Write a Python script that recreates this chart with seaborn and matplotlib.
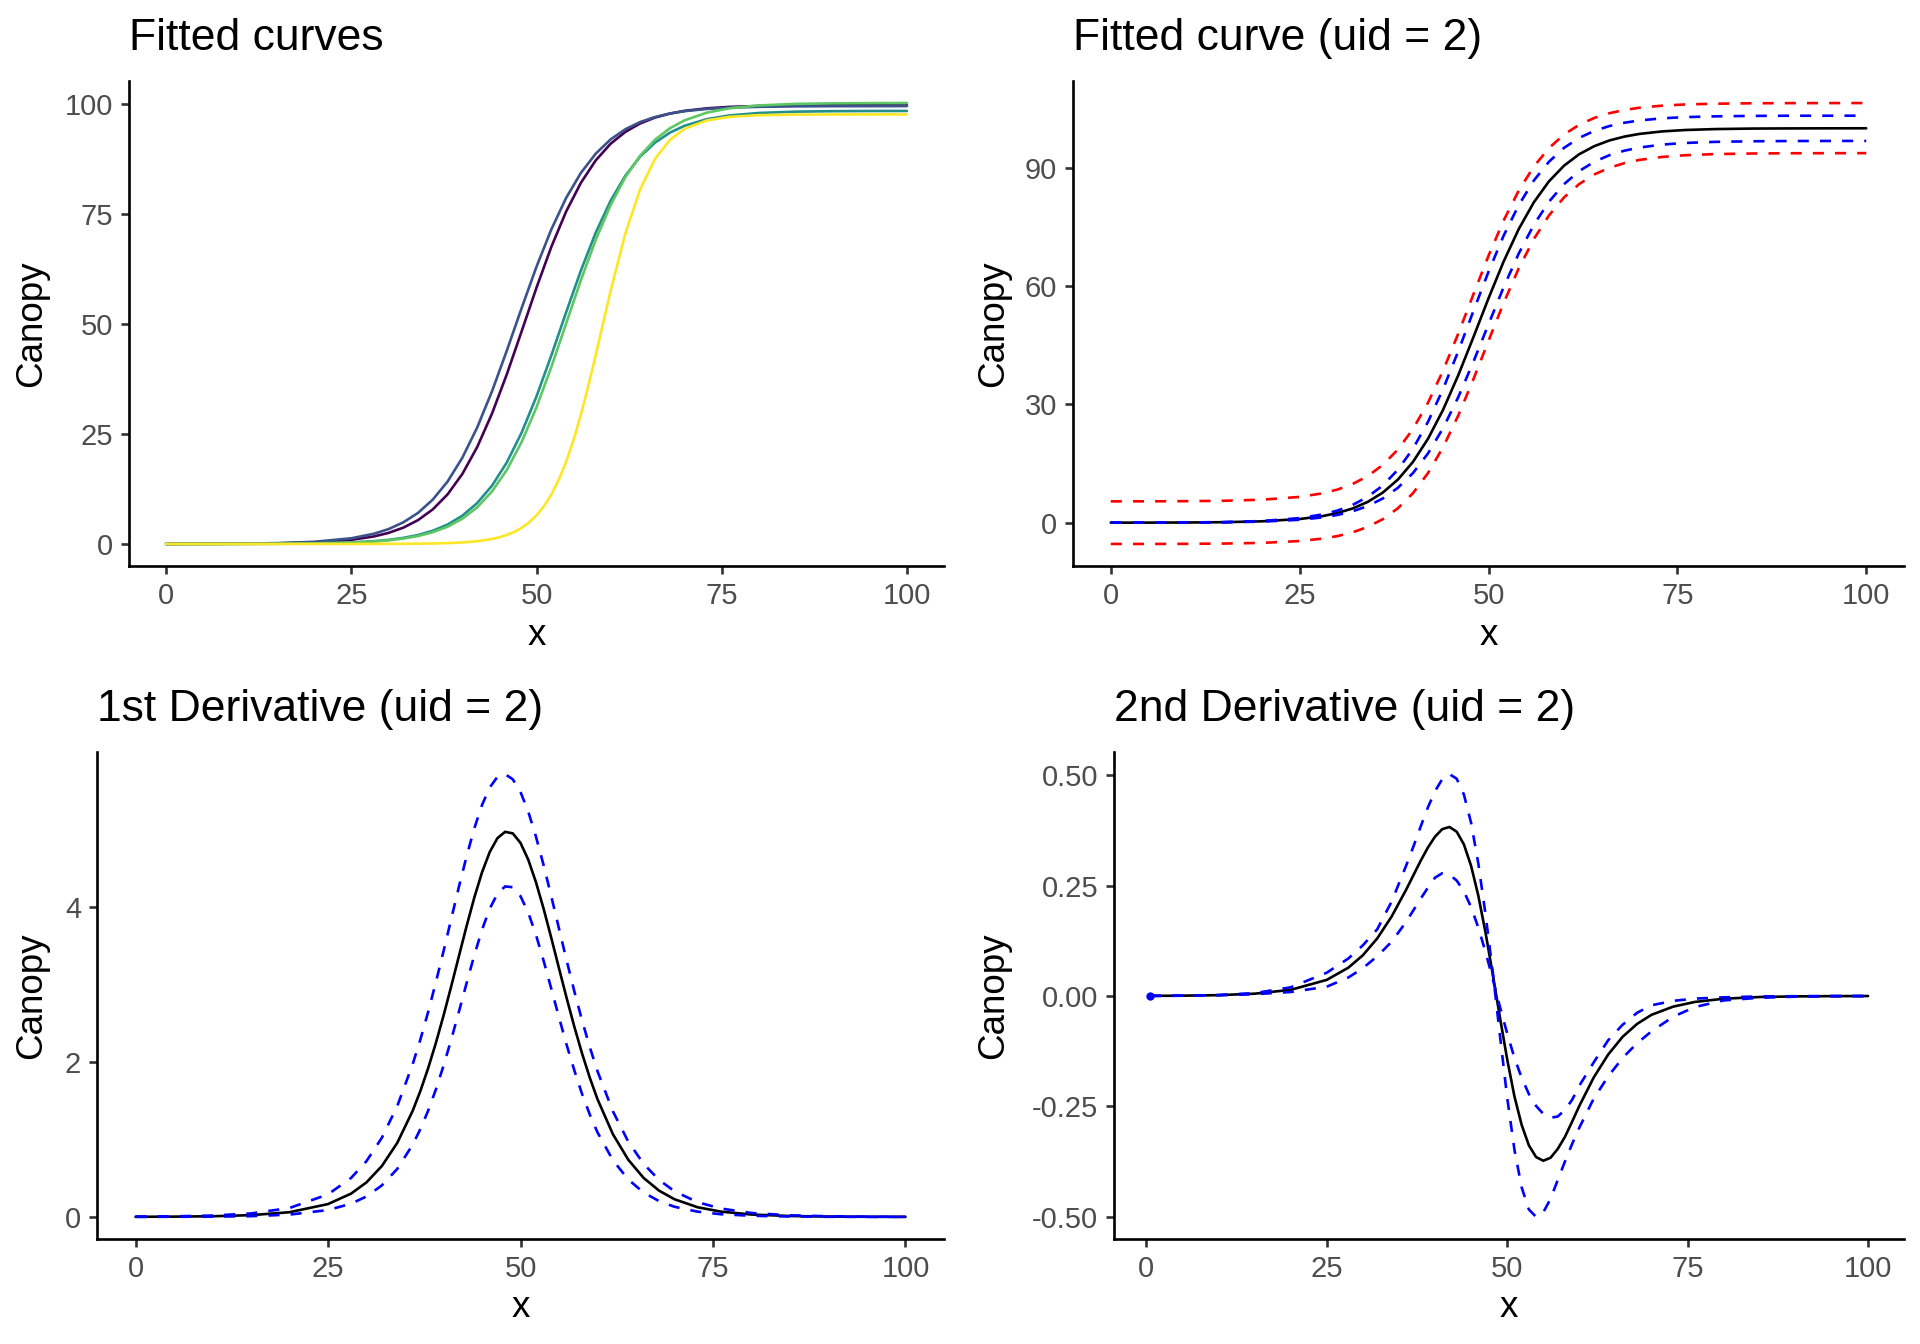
import matplotlib
matplotlib.use("Agg")
import matplotlib.pyplot as plt
import matplotlib.ticker as mticker
import matplotlib.transforms as mtrans
import seaborn as sns

sns.set_style("ticks")
plt.rcParams['font.family'] = ['Liberation Sans', 'DejaVu Sans']
plt.rcParams['axes.unicode_minus'] = False

# x grid for the two top panels
x = [0, 5, 10, 15, 20, 25, 28, 30, 32, 34, 36, 38, 40, 42, 44, 46, 48, 50, 52,
     54, 56, 58, 60, 62, 64, 66, 68, 70, 73, 76, 80, 85, 90, 95, 100]
# finer grid for the steep curves
x_d = [0, 5, 10, 15, 20, 25, 28, 30, 32, 34, 36, 37, 38, 39, 40, 41, 42, 43, 44, 45, 46, 47, 48,
       49, 50, 51, 52, 53, 54, 55, 56, 57, 58, 59, 60, 62, 64, 66, 68, 70, 73, 76, 80, 85, 90, 95, 100]
x_d2 = [0.5] + x_d[1:]

# --- fitted curves, one per uid
uid1 = [0.0, 0.02, 0.05, 0.13, 0.35, 0.94, 1.69, 2.50, 3.69, 5.41, 7.86, 11.28, 15.95, 22.06, 29.68,
        38.62, 48.40, 58.30, 67.57, 75.62, 82.17, 87.26, 91.03, 93.74, 95.66, 96.99, 97.89, 98.52,
        99.09, 99.41, 99.62, 99.73, 99.78, 99.79, 99.80]
uid2 = [0.01, 0.03, 0.07, 0.19, 0.49, 1.29, 2.30, 3.36, 4.89, 7.05, 10.08, 14.20, 19.64, 26.51, 34.75,
        44.00, 53.68, 63.07, 71.54, 78.71, 84.42, 88.79, 92.02, 94.34, 95.98, 97.11, 97.91, 98.45,
        98.95, 99.24, 99.43, 99.54, 99.58, 99.59, 99.60]
uid3 = [0.00, 0.01, 0.02, 0.05, 0.13, 0.34, 0.62, 0.92, 1.37, 2.03, 3.00, 4.41, 6.44, 9.31, 13.27,
        18.56, 25.35, 33.56, 42.88, 52.69, 62.23, 70.83, 78.06, 83.79, 88.13, 91.30, 93.55, 95.13,
        96.62, 97.46, 98.03, 98.33, 98.44, 98.48, 98.49]
uid4 = [0.00, 0.01, 0.02, 0.04, 0.11, 0.30, 0.55, 0.82, 1.22, 1.80, 2.67, 3.93, 5.75, 8.34, 11.96,
        16.85, 23.22, 31.09, 40.25, 50.15, 60.05, 69.21, 77.08, 83.45, 88.34, 91.96, 94.55, 96.37,
        98.11, 99.08, 99.75, 100.10, 100.22, 100.27, 100.29]
# uid 5 is read on the finer grid (x_d)
uid5 = [0.00, 0.00, 0.00, 0.00, 0.00, 0.00, 0.01, 0.02, 0.03, 0.06,
        0.10, 0.14, 0.19, 0.26, 0.35, 0.47, 0.63, 0.85, 1.14, 1.53, 2.06, 2.75, 3.68,
        4.90, 6.51, 8.58, 11.24, 14.59, 18.71, 23.67, 29.46, 35.97, 43.02, 50.31, 57.55,
        70.65, 80.74, 87.60, 91.89, 94.43, 96.34, 97.14, 97.53, 97.66, 97.69, 97.70, 97.70]
uid_colors = ['#440154', '#3B528B', '#21908C', '#5DC863', '#FDE725']

# --- uid 2 fit with confidence (blue) and prediction (red) bands
fit = [0.01, 0.02, 0.05, 0.13, 0.35, 0.93, 1.66, 2.45, 3.60, 5.26, 7.62, 10.92, 15.41, 21.30, 28.68,
       37.40, 47.03, 56.88, 66.21, 74.44, 81.23, 86.54, 90.52, 93.42, 95.47, 96.91, 97.90, 98.58,
       99.21, 99.56, 99.80, 99.93, 99.97, 99.99, 100.00]
ci_up = [0.01, 0.02, 0.06, 0.16, 0.43, 1.16, 2.09, 3.07, 4.49, 6.54, 9.43, 13.42, 18.75, 25.60, 33.95,
         43.49, 53.64, 63.63, 72.76, 80.52, 86.75, 91.52, 95.04, 97.57, 99.34, 100.57, 101.41, 101.99,
         102.53, 102.83, 103.03, 103.14, 103.18, 103.19, 103.20]
ci_lo = [0.01, 0.01, 0.04, 0.10, 0.27, 0.74, 1.33, 1.96, 2.88, 4.22, 6.13, 8.84, 12.58, 17.59, 24.02,
         31.84, 40.79, 50.31, 59.69, 68.24, 75.52, 81.37, 85.84, 89.14, 91.51, 93.18, 94.33, 95.12,
         95.87, 96.28, 96.56, 96.71, 96.77, 96.79, 96.80]
pi_up = [5.41, 5.42, 5.46, 5.56, 5.83, 6.54, 7.44, 8.40, 9.80, 11.80, 14.63, 18.53, 23.75, 30.46, 38.62,
         47.96, 57.89, 67.68, 76.61, 84.20, 90.30, 94.97, 98.41, 100.89, 102.62, 103.82, 104.65, 105.22,
         105.74, 106.04, 106.23, 106.34, 106.38, 106.39, 106.40]
pi_lo = [-5.39, -5.39, -5.36, -5.29, -5.12, -4.65, -4.04, -3.40, -2.45, -1.08, 0.88, 3.65, 7.48, 12.61,
         19.19, 27.19, 36.36, 46.10, 55.70, 64.47, 71.92, 77.90, 82.48, 85.86, 88.29, 89.99, 91.17,
         91.99, 92.74, 93.17, 93.46, 93.61, 93.67, 93.69, 93.70]

# --- 1st derivative
d1 = [0.001, 0.003, 0.008, 0.022, 0.060, 0.165, 0.300, 0.445, 0.656, 0.955,
      1.368, 1.624, 1.915, 2.239, 2.594, 2.972, 3.362, 3.750, 4.117, 4.442, 4.704, 4.883, 4.965,
      4.945, 4.822, 4.608, 4.318, 3.974, 3.596, 3.205, 2.819, 2.449, 2.105, 1.794, 1.517,
      1.066, 0.736, 0.501, 0.338, 0.227, 0.124, 0.068, 0.030, 0.011, 0.004, 0.001, 0.000]
d1_up = [0.003, 0.007, 0.017, 0.044, 0.114, 0.290, 0.502, 0.719, 1.021, 1.430,
         1.969, 2.288, 2.640, 3.022, 3.424, 3.840, 4.255, 4.650, 5.009, 5.310, 5.536, 5.673, 5.709,
         5.642, 5.479, 5.228, 4.906, 4.536, 4.132, 3.716, 3.303, 2.905, 2.531, 2.188, 1.878,
         1.361, 0.969, 0.682, 0.476, 0.330, 0.189, 0.108, 0.050, 0.020, 0.008, 0.003, 0.001]
d1_lo = [0.000, 0.001, 0.003, 0.009, 0.029, 0.088, 0.170, 0.263, 0.406, 0.619,
         0.931, 1.133, 1.368, 1.640, 1.948, 2.285, 2.645, 3.014, 3.374, 3.701, 3.973, 4.166, 4.261,
         4.251, 4.135, 3.925, 3.640, 3.303, 2.941, 2.572, 2.215, 1.886, 1.583, 1.319, 1.089,
         0.731, 0.481, 0.313, 0.203, 0.130, 0.067, 0.034, 0.014, 0.005, 0.001, 0.000, 0.000]

# --- 2nd derivative
d2 = [0.0003, 0.0007, 0.0019, 0.0052, 0.0139, 0.0365, 0.0642, 0.0922, 0.1305, 0.1803,
      0.2407, 0.2733, 0.3059, 0.3359, 0.3609, 0.3779, 0.3828, 0.3722, 0.3434, 0.2947, 0.2272, 0.1435,
      0.0491, -0.0491, -0.1435, -0.2272, -0.2918, -0.3382, -0.3648, -0.3732, -0.3665, -0.3465,
      -0.3191, -0.2845, -0.2487, -0.1842, -0.1324, -0.0923, -0.0632, -0.0426, -0.0241, -0.0135,
      -0.0062, -0.0023, -0.0009, -0.0003, -0.0001]
d2_a = [0.0002, 0.0006, 0.0022, 0.0065, 0.0196, 0.0527, 0.0850, 0.1146, 0.1512, 0.2143,
        0.2953, 0.3381, 0.3833, 0.4266, 0.4639, 0.4911, 0.5025, 0.4922, 0.4563, 0.3920, 0.3001, 0.1846,
        0.0541, -0.0898, -0.2304, -0.3479, -0.4333, -0.4835, -0.5003, -0.4900, -0.4597, -0.4169,
        -0.375, -0.335, -0.298, -0.232, -0.182, -0.140, -0.107, -0.080, -0.047, -0.025,
        -0.010, -0.004, -0.0015, -0.0005, -0.0002]
d2_b = [0.0003, 0.0007, 0.0016, 0.004, 0.009, 0.021, 0.042, 0.063, 0.090, 0.123,
        0.168, 0.194, 0.220, 0.245, 0.268, 0.278, 0.2748, 0.2615, 0.2370, 0.2012, 0.1549, 0.0996,
        0.0382, -0.025, -0.085, -0.140, -0.185, -0.222, -0.249, -0.267, -0.276, -0.273,
        -0.258, -0.235, -0.203, -0.150, -0.100, -0.065, -0.038, -0.021, -0.011, -0.006,
        -0.003, -0.001, -0.0005, -0.0002, -0.0001]

LW = 1.9
DASH = (0, (4.2, 4.2))

fig = plt.figure(figsize=(19.2, 13.44), dpi=100)
W, H = 1920, 1344
# panel boxes in pixels: left, top, right, bottom
boxes = [(129, 81, 944, 566), (1073, 81, 1904, 566),
         (97, 752, 944, 1239), (1114, 752, 1904, 1239)]
axs = [fig.add_axes([l / W, 1 - b / H, (r - l) / W, (b - t) / H]) for l, t, r, b in boxes]
ax1, ax2, ax3, ax4 = axs

for xx, yy, c in zip([x, x, x, x, x_d], [uid1, uid2, uid3, uid4, uid5], uid_colors):
    sns.lineplot(x=xx, y=yy, ax=ax1, color=c, linewidth=LW, sort=False, estimator=None)

sns.lineplot(x=x, y=fit, ax=ax2, color='black', linewidth=LW, sort=False, estimator=None)
for yy in [pi_up, pi_lo]:
    sns.lineplot(x=x, y=yy, ax=ax2, color='red', linewidth=LW, linestyle=DASH, sort=False, estimator=None)
for yy in [ci_up, ci_lo]:
    sns.lineplot(x=x, y=yy, ax=ax2, color='blue', linewidth=LW, linestyle=DASH, sort=False, estimator=None)

sns.lineplot(x=x_d, y=d1, ax=ax3, color='black', linewidth=LW, sort=False, estimator=None)
for yy in [d1_up, d1_lo]:
    sns.lineplot(x=x_d, y=yy, ax=ax3, color='blue', linewidth=LW, linestyle=DASH, sort=False, estimator=None)

sns.lineplot(x=x_d2, y=d2, ax=ax4, color='black', linewidth=LW, sort=False, estimator=None)
sns.lineplot(x=x_d2, y=d2_b, ax=ax4, color='blue', linewidth=LW, linestyle=DASH, sort=False, estimator=None)
sns.lineplot(x=x_d2, y=d2_a, ax=ax4, color='blue', linewidth=LW, linestyle=DASH, sort=False, estimator=None,
             marker='o', markersize=6, markevery=[0], markeredgewidth=0)

titles = ["Fitted curves", "Fitted curve (uid = 2)", "1st Derivative (uid = 2)", "2nd Derivative (uid = 2)"]
yticks = [[0, 25, 50, 75, 100], [0, 30, 60, 90], [0, 2, 4], [-0.5, -0.25, 0, 0.25, 0.5]]
ylab_x = [49, 1011, 49, 1011]
xlab_y = [645, 645, 1317, 1317]

for ax, t, yt, lx, ly in zip(axs, titles, yticks, ylab_x, xlab_y):
    for s in ['top', 'right']:
        ax.spines[s].set_visible(False)
    for s in ['left', 'bottom']:
        ax.spines[s].set_linewidth(1.9)
        ax.spines[s].set_color('black')
    ax.set_xticks([0, 25, 50, 75, 100])
    ax.set_yticks(yt)
    ax.tick_params(length=6, width=1.9, color='#333333', labelcolor='#4D4D4D', labelsize=21, pad=5.5)
    ax.set_title(t, loc='left', fontsize=32, pad=22, color='black')
    ax.set_xlabel('x', fontsize=26.5, color='black', va='baseline')
    ax.set_ylabel('Canopy', fontsize=26.5, color='black')
    ax.xaxis.set_label_coords(0.5, 1 - ly / H,
                              transform=mtrans.blended_transform_factory(ax.transAxes, fig.transFigure))
    ax.yaxis.set_label_coords(lx / W, 0.5,
                              transform=mtrans.blended_transform_factory(fig.transFigure, ax.transAxes))
    ax.grid(False)

ax4.yaxis.set_major_formatter(mticker.FormatStrFormatter('%.2f'))

fig.savefig('out.png', dpi=100, facecolor='white')
